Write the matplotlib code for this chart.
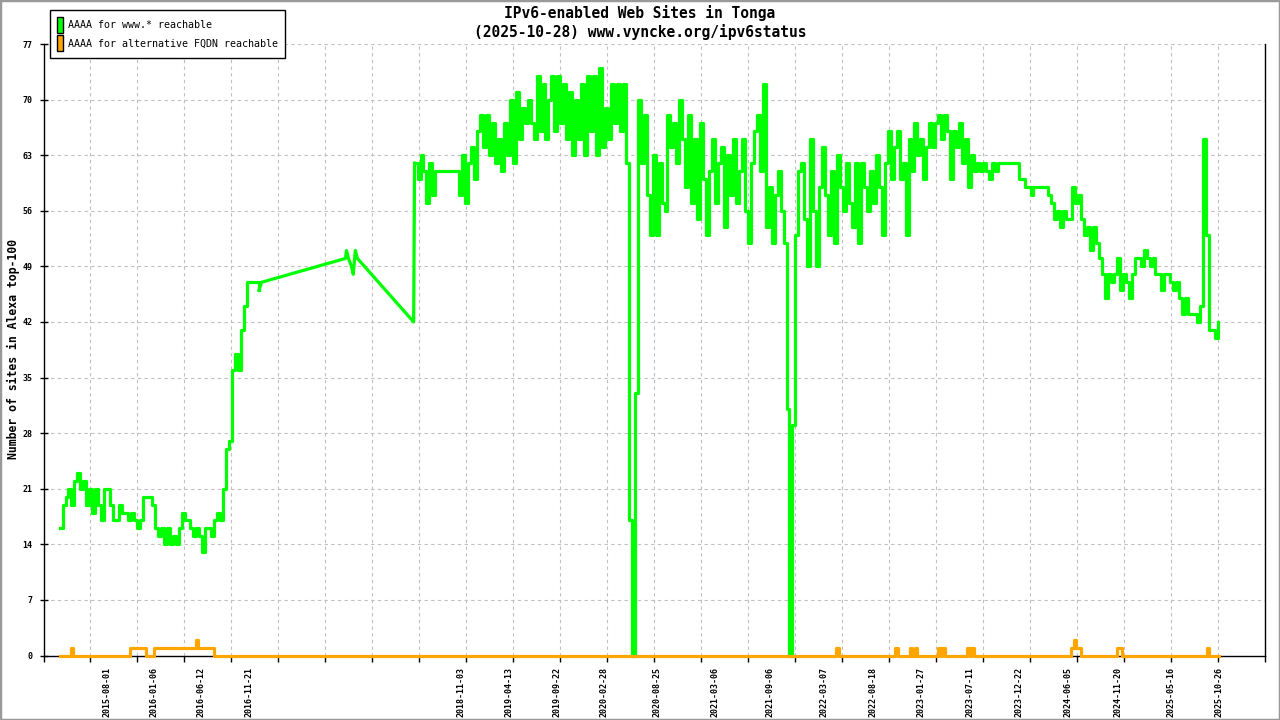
import numpy as np
import matplotlib
matplotlib.use("Agg")
import matplotlib.pyplot as plt
import matplotlib.dates as mdates
from matplotlib.patches import Patch, Rectangle
from matplotlib.ticker import FixedLocator, NullFormatter

FONT = "DejaVu Sans Mono"
GREEN = "#00ff00"
ORANGE = "#ffa500"

# www.* reachable, early period (one reading every 10 days)
green_early_start = "2015-02-24"
green_early = [16, 19, 20, 21, 19, 22, 23, 21, 22, 19,
               21, 18, 21, 19, 17, 21, 21, 19, 17, 17,
               19, 18, 18, 17, 18, 17, 16, 17, 20, 20,
               20, 19, 16, 15, 16, 14, 16, 14, 15, 14,
               16, 18, 17, 17, 16, 15, 16, 15, 13, 16,
               16, 15, 17, 18, 17, 21, 26, 27, 36, 38,
               36, 41, 44, 47, 47, 47, 47, 46]

# sparse measurements 2017 - mid 2018
green_mid_dates = ["2017-01-03", "2017-10-12", "2017-10-15", "2017-10-22", "2017-11-01",
                   "2017-11-07", "2017-11-14", "2017-11-21", "2018-05-29"]
green_mid = [47, 50, 51, 50, 49, 48, 51, 50, 42]

# dense period (one reading every 10 days)
green_dense_start = "2018-06-01"
green_dense = [62, 60, 63, 61, 57, 62, 58, 61, 61, 61,
               61, 61, 61, 61, 61, 58, 63, 57, 62, 64,
               60, 66, 68, 64, 68, 63, 67, 62, 65, 61,
               67, 63, 70, 62, 71, 65, 69, 67, 70, 67,
               65, 73, 66, 72, 65, 70, 73, 66, 73, 67,
               72, 65, 71, 63, 70, 65, 72, 63, 73, 66,
               73, 63, 74, 64, 69, 65, 72, 67, 72, 66,
               72, 62, 17, 0, 33, 70, 62, 68, 58, 53,
               63, 53, 62, 57, 56, 68, 64, 67, 62, 70,
               65, 59, 68, 57, 65, 55, 67, 60, 53, 61,
               65, 57, 62, 64, 54, 63, 58, 65, 57, 61,
               65, 56, 52, 62, 66, 68, 61, 72, 54, 59,
               52, 58, 61, 56, 52, 31, 0, 29, 53, 61,
               62, 55, 49, 65, 56, 49, 59, 64, 58, 53,
               61, 52, 63, 59, 56, 62, 57, 54, 62, 52,
               62, 59, 56, 61, 57, 63, 59, 53, 62, 66,
               60, 64, 66, 60, 62, 53, 65, 61, 67, 63,
               65, 60, 64, 67, 64, 67, 68, 65, 68, 66,
               60, 66, 64, 67, 62, 65, 59, 63, 61, 62,
               61, 62, 61, 60, 62, 61, 62, 62, 62, 62,
               62, 62, 62, 60, 60, 59, 59, 58, 59, 59,
               59, 59, 59, 58, 57, 55, 56, 54, 56, 55,
               55, 59, 57, 58, 55, 53, 54, 51, 54, 52,
               50, 48, 45, 48, 47, 48, 50, 46, 48, 47,
               45, 48, 50, 50, 49, 51, 50, 49, 50, 48,
               48, 46, 48, 48, 47, 46, 47, 45, 43, 45,
               43, 43, 43, 42, 44, 65, 53, 41, 41, 40, 42]

# alternative FQDN reachable (value holds until next date)
orange_dates = ["2015-02-24", "2015-04-02", "2015-04-11", "2015-10-20", "2015-12-13",
                "2016-01-08", "2016-05-26", "2016-06-02", "2016-07-27",
                "2022-04-17", "2022-04-26", "2022-11-01", "2022-11-11",
                "2022-12-22", "2022-12-28", "2023-01-07", "2023-01-14",
                "2023-03-26", "2023-04-04", "2023-04-10", "2023-04-20",
                "2023-07-01", "2023-07-11", "2023-07-15", "2023-07-25",
                "2024-06-15", "2024-06-25", "2024-07-02", "2024-07-19",
                "2024-11-15", "2024-12-03", "2025-09-15", "2025-09-22", "2025-10-26"]
orange_vals = [0, 1, 0, 1, 0, 1, 2, 1, 0,
               1, 0, 1, 0, 1, 0, 1, 0,
               1, 0, 1, 0, 1, 0, 1, 0,
               1, 2, 1, 0, 1, 0, 1, 0, 0]

x_labels = ["2015-08-01", "2016-01-06", "2016-06-12", "2016-11-21", "2018-11-03",
            "2019-04-13", "2019-09-22", "2020-02-28", "2020-08-25", "2021-03-06",
            "2021-09-06", "2022-03-07", "2022-08-18", "2023-01-27", "2023-07-11",
            "2023-12-22", "2024-06-05", "2024-11-20", "2025-05-16", "2025-10-26"]
x_start, x_end = "2015-01-01", "2026-03-29"

day = np.timedelta64(10, "D")
early_x = np.datetime64(green_early_start) + np.arange(len(green_early)) * day
dense_x = np.datetime64(green_dense_start) + np.arange(len(green_dense)) * day
mid_x = np.array(green_mid_dates, dtype="datetime64[D]")
conn_x = np.concatenate([[early_x[-1]], mid_x, [dense_x[0]]])
conn_y = [green_early[-1]] + green_mid + [green_dense[0]]
orange_x = np.array(orange_dates, dtype="datetime64[D]")

fig = plt.figure(figsize=(12.8, 7.2), dpi=100)
ax = fig.add_axes([43.5 / 1280, 1 - 655.5 / 720, (1265 - 43.5) / 1280, (655.5 - 44) / 720])

lw = 2.3
ax.plot(early_x, green_early, color=GREEN, lw=lw, drawstyle="steps-post", zorder=3, clip_on=False)
ax.plot(conn_x, conn_y, color=GREEN, lw=lw, zorder=3, clip_on=False)
ax.plot(dense_x, green_dense, color=GREEN, lw=lw, drawstyle="steps-post", zorder=3, clip_on=False)
ax.plot(orange_x, orange_vals, color=ORANGE, lw=lw, drawstyle="steps-post", zorder=4, clip_on=False)

x0 = mdates.date2num(np.datetime64(x_start))
x1 = mdates.date2num(np.datetime64(x_end))
ax.set_xlim(x0, x1)
ax.set_ylim(0, 77)

ax.xaxis.set_major_locator(FixedLocator(mdates.date2num(np.array(x_labels, dtype="datetime64[D]"))))
ax.set_xticklabels(x_labels, rotation=90, fontfamily=FONT, fontweight="bold", fontsize=6)
ax.xaxis.set_minor_locator(FixedLocator(np.linspace(x0, x1, 27)))
ax.xaxis.set_minor_formatter(NullFormatter())
ax.tick_params(axis="x", which="major", length=0, pad=8)
ax.tick_params(axis="x", which="minor", length=4, width=1, direction="out", color="black")

ax.set_yticks(np.arange(0, 78, 7))
ax.set_yticklabels([str(v) for v in range(0, 78, 7)], fontfamily=FONT, fontweight="bold", fontsize=6)
ax.tick_params(axis="y", length=6, width=1, direction="inout", pad=5)

ax.grid(True, which="minor", axis="x", color="#c0c0c0", linestyle=(0, (3, 3)), lw=0.8)
ax.grid(True, which="major", axis="y", color="#c0c0c0", linestyle=(0, (3, 3)), lw=0.8)
ax.set_axisbelow(True)

ax.spines["top"].set_visible(False)
for s in ["left", "bottom", "right"]:
    ax.spines[s].set_linewidth(1.0)
    ax.spines[s].set_zorder(2)

fig.text(640 / 1280, 1 - 13 / 720, "IPv6-enabled Web Sites in Tonga", ha="center", va="center",
         fontfamily=FONT, fontweight="bold", fontsize=10.5)
fig.text(640 / 1280, 1 - 32 / 720, "(2025-10-28) www.vyncke.org/ipv6status", ha="center", va="center",
         fontfamily=FONT, fontweight="bold", fontsize=10.5)
fig.text(13 / 1280, 1 - 349 / 720, "Number of sites in Alexa top-100", rotation=90, ha="center",
         va="center", fontfamily=FONT, fontweight="bold", fontsize=8.3)

handles = [Patch(facecolor=GREEN, edgecolor="black", label="AAAA for www.* reachable"),
           Patch(facecolor=ORANGE, edgecolor="black", label="AAAA for alternative FQDN reachable")]
leg = fig.legend(handles=handles, loc="upper left", bbox_to_anchor=(50 / 1280, 1 - 10 / 720),
                 frameon=True, fancybox=False, edgecolor="black", framealpha=1,
                 prop={"family": FONT, "size": 7.2}, handlelength=0.6, handleheight=2.1,
                 handletextpad=0.5, borderpad=0.7, labelspacing=0.2, borderaxespad=0)
leg.get_frame().set_linewidth(1.0)

fig.patches.append(Rectangle((0, 0), 1, 1, transform=fig.transFigure, fill=False,
                             edgecolor="#999999", lw=2.5))

fig.savefig("out.png", dpi=100)
